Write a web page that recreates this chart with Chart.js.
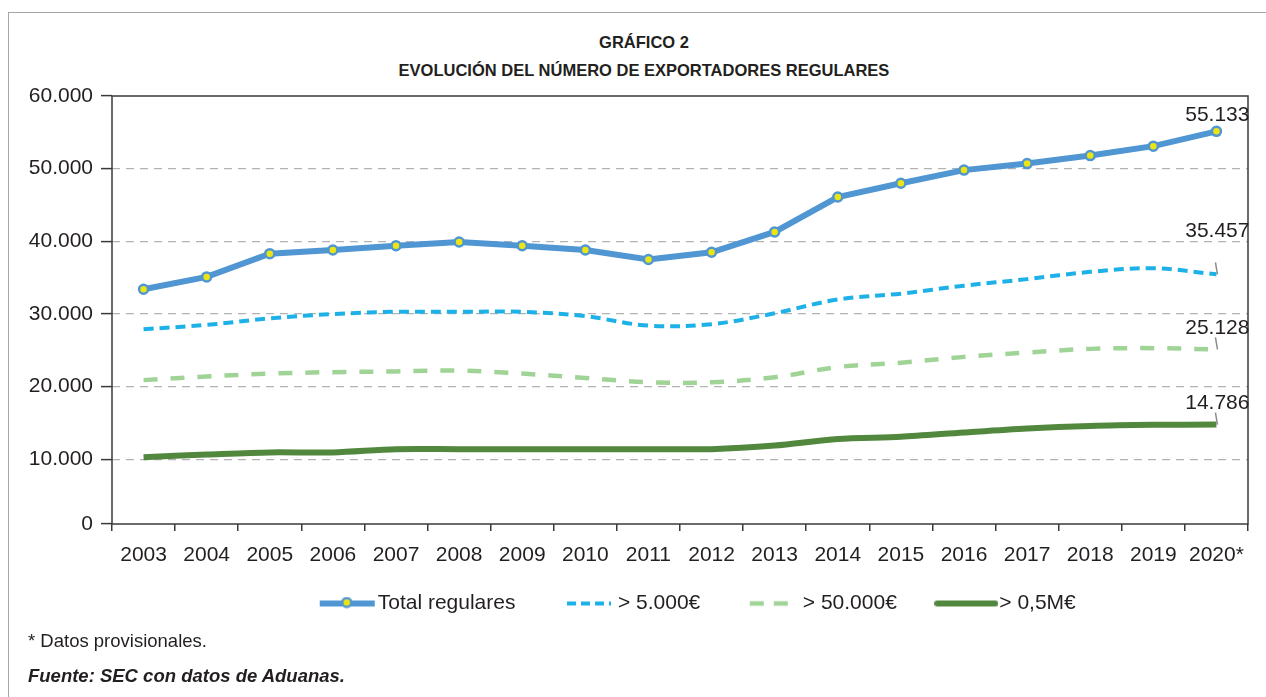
<!DOCTYPE html>
<html>
<head>
<meta charset="utf-8">
<script src="https://cdn.jsdelivr.net/npm/chart.js@4.4.1/dist/chart.umd.min.js"></script>
<style>
  html, body { margin: 0; padding: 0; background: #fff; width: 1266px; height: 697px; overflow: hidden;
    font-family: "Liberation Sans", Arial, sans-serif; color: #231f20; }
  #frame { position: absolute; left: 8px; top: 12px; width: 1300px; height: 800px;
    border-left: 1px solid #a6a6a6; border-top: 1px solid #a6a6a6; }
  .title { position: absolute; left: 0; width: 1288px; text-align: center; font-weight: bold;
    font-size: 16.5px; line-height: 19px; }
  .note { position: absolute; left: 28px; font-size: 18.5px; line-height: 21px; }
  #wrap { position: absolute; left: 0; top: 0; width: 1266px; height: 697px; }
</style>
</head>
<body>
<div id="frame"></div>
<div class="title" style="top:33px">GRÁFICO 2</div>
<div class="title" style="top:61px">EVOLUCIÓN DEL NÚMERO DE EXPORTADORES REGULARES</div>
<div id="wrap"><canvas id="exportChart" width="1266" height="697"></canvas></div>
<div class="note" style="top:630px">* Datos provisionales.</div>
<div class="note" style="top:665px;font-weight:bold;font-style:italic">Fuente: SEC con datos de Aduanas.</div>
<script>
// values
const years = ['2003', '2004', '2005', '2006', '2007', '2008', '2009', '2010', '2011',
               '2012', '2013', '2014', '2015', '2016', '2017', '2018', '2019', '2020*'];
const totalRegulares = [33400, 35100, 38300, 38800, 39400, 39900, 39400, 38800, 37500,
                        38500, 41300, 46100, 48000, 49800, 50700, 51800, 53100, 55133];
const mas5000 = [27900, 28500, 29400, 30000, 30300, 30300, 30300, 29700, 28400,
                 28600, 30100, 32000, 32800, 33900, 34800, 35800, 36300, 35457];
const mas50000 = [20900, 21400, 21800, 22000, 22100, 22200, 21800, 21200, 20600,
                  20600, 21300, 22700, 23300, 24100, 24700, 25200, 25300, 25128];
const mas05M = [10300, 10650, 10950, 10950, 11400, 11400, 11400, 11400, 11400,
                11400, 11900, 12800, 13100, 13700, 14250, 14600, 14750, 14786];
const seriesNames = ['Total regulares', '> 5.000€', '> 50.000€', '> 0,5M€'];
const yTickValues = [0, 10000, 20000, 30000, 40000, 50000, 60000];

const FONT = '"Liberation Sans", Arial, sans-serif';
const yMin = 1100;   // axis is cut short below 10.000 in the original
const blue = '#4f96d2', cyan = '#1db1e8', pale = '#a0d497', dark = '#51883e';

function fmt(v) {
  return String(Math.round(v)).replace(/\B(?=(\d{3})+(?!\d))/g, '.');
}

// little canvases used as legend symbols
function makeIcon(draw) {
  const c = document.createElement('canvas');
  c.width = 64; c.height = 14;
  draw(c.getContext('2d'));
  return c;
}
const legendIcons = [
  makeIcon(g => {
    g.strokeStyle = blue; g.lineWidth = 6;
    g.beginPath(); g.moveTo(7, 7); g.lineTo(62, 7); g.stroke();
    g.beginPath(); g.arc(34, 6, 4.5, 0, Math.PI * 2);
    g.fillStyle = '#ece514'; g.fill(); g.lineWidth = 2.5; g.stroke();
  }),
  makeIcon(g => {
    g.strokeStyle = cyan; g.lineWidth = 4; g.setLineDash([9, 5]);
    g.beginPath(); g.moveTo(14, 7); g.lineTo(58, 7); g.stroke();
  }),
  makeIcon(g => {
    g.strokeStyle = pale; g.lineWidth = 4.5; g.setLineDash([14, 10]);
    g.beginPath(); g.moveTo(12, 7); g.lineTo(50, 7); g.stroke();
  }),
  makeIcon(g => {
    g.strokeStyle = dark; g.lineWidth = 6; g.lineCap = 'round';
    g.beginPath(); g.moveTo(3, 7); g.lineTo(61, 7); g.stroke();
  })
];

// offsets of the end labels (style only)
const endLabelStyle = [
  { dy: -16, leader: false },
  { dy: -43, leader: true },
  { dy: -21, leader: true },
  { dy: -21, leader: true }
];

const plotFrame = {
  id: 'plotFrame',
  beforeDatasetsDraw(chart) {
    const { ctx, chartArea: a } = chart;
    ctx.save();
    ctx.strokeStyle = '#3a3a3a';
    ctx.lineWidth = 1.5;
    ctx.strokeRect(a.left, a.top, a.right - a.left, a.bottom - a.top);
    ctx.restore();
  }
};

const endLabels = {
  id: 'endLabels',
  afterDatasetsDraw(chart) {
    const ctx = chart.ctx;
    ctx.save();
    ctx.font = '21px ' + FONT;
    ctx.fillStyle = '#231f20';
    ctx.textAlign = 'right';
    ctx.textBaseline = 'middle';
    chart.data.datasets.forEach((ds, i) => {
      const meta = chart.getDatasetMeta(i);
      const pt = meta.data[meta.data.length - 1];
      const st = endLabelStyle[i];
      ctx.fillText(fmt(ds.data[ds.data.length - 1]), pt.x + 33, pt.y + st.dy);
      if (st.leader) {
        ctx.strokeStyle = '#8c8c8c';
        ctx.lineWidth = 1.5;
        ctx.beginPath();
        ctx.moveTo(pt.x - 1, pt.y - 12);
        ctx.lineTo(pt.x + 1, pt.y);
        ctx.stroke();
      }
    });
    ctx.restore();
  }
};

// move the legend block right and up, as in the original
const legendShift = {
  id: 'legendShift',
  afterLayout(chart) {
    const lg = chart.legend;
    lg.left += 75;
    lg.right += 75;
    lg.top -= 19;
    lg.bottom -= 19;
  }
};

const ctx = document.getElementById('exportChart').getContext('2d');

let chart = new Chart(ctx, {
  type: 'line',
  data: {
    labels: years,
    datasets: [
      {
        label: seriesNames[0],
        data: totalRegulares,
        borderColor: blue,
        borderWidth: 6,
        tension: 0,
        pointRadius: 4.5,
        pointBorderWidth: 2.5,
        pointBackgroundColor: '#ece514',
        pointBorderColor: blue
      },
      {
        label: seriesNames[1],
        data: mas5000,
        borderColor: cyan,
        borderWidth: 4,
        borderDash: [10, 6],
        tension: 0.35,
        pointRadius: 0
      },
      {
        label: seriesNames[2],
        data: mas50000,
        borderColor: pale,
        borderWidth: 4.5,
        borderDash: [14, 13],
        tension: 0.35,
        pointRadius: 0
      },
      {
        label: seriesNames[3],
        data: mas05M,
        borderColor: dark,
        borderWidth: 6,
        tension: 0.3,
        pointRadius: 0
      }
    ]
  },
  options: {
    responsive: false,
    animation: false,
    devicePixelRatio: 1,
    layout: { padding: { top: 96, left: 0, right: 18, bottom: 54 } },
    plugins: {
      tooltip: { enabled: false },
      legend: {
        position: 'bottom',
        labels: {
          usePointStyle: true,
          pointStyleWidth: 45,
          padding: 47,
          color: '#231f20',
          font: { size: 21, family: FONT },
          generateLabels(chart) {
            const items = Chart.defaults.plugins.legend.labels.generateLabels(chart);
            items.forEach((it, i) => { it.pointStyle = legendIcons[i]; });
            return items;
          }
        }
      }
    },
    scales: {
      x: {
        offset: true,
        grid: { offset: true, drawOnChartArea: false, tickLength: 7, color: '#3a3a3a', tickColor: '#3a3a3a', lineWidth: 1.5 },
        border: { display: false },
        ticks: { font: { size: 21, family: FONT }, color: '#231f20', padding: 12, maxRotation: 0, autoSkip: false },
        afterFit(scale) { scale.height = 41; }
      },
      y: {
        min: yMin,
        max: 60000,
        afterBuildTicks(scale) {
          scale.ticks = yTickValues.map(v => ({ value: Math.max(v, yMin) }));
        },
        afterFit(scale) { scale.width = 112; },
        ticks: {
          font: { size: 21, family: FONT },
          color: '#231f20',
          padding: 8,
          callback: v => (v <= yMin ? '0' : fmt(v))
        },
        grid: {
          color: c => (c.tick && (c.tick.value <= yMin || c.tick.value >= 60000)) ? 'rgba(0,0,0,0)' : '#b3b3b3',
          lineWidth: 1.2,
          tickLength: 11,
          tickColor: '#3a3a3a',
          tickWidth: 1.5,
          tickBorderDash: []
        },
        border: { display: false, dash: [8, 6] }
      }
    }
  },
  plugins: [plotFrame, endLabels, legendShift]
});
</script>
</body>
</html>
